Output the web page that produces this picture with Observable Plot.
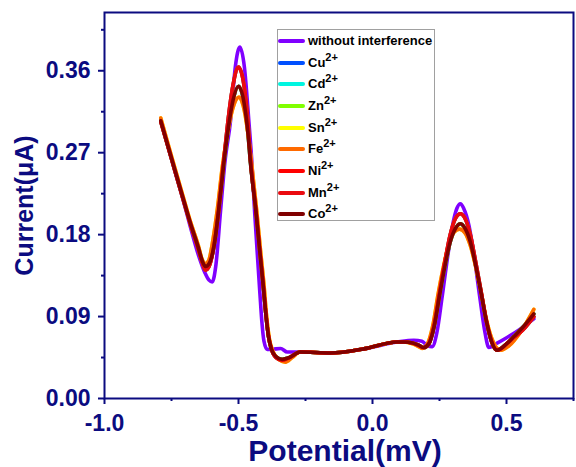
<!DOCTYPE html>
<html><head><meta charset="utf-8">
<script src="https://cdn.jsdelivr.net/npm/d3@7"></script>
<script src="https://cdn.jsdelivr.net/npm/@observablehq/plot@0.6"></script>
<style>
body{margin:0;background:#fff;}
#wrap{position:relative;width:576px;height:467px;font-family:"Liberation Sans",Arial,sans-serif;}
#legend{position:absolute;left:277px;top:29px;width:158px;height:192px;border:1px solid #a0a0a0;background:#fff;box-sizing:border-box;}
.row{position:absolute;left:0;height:20px;display:flex;align-items:center;white-space:nowrap;}
.sw{width:27px;height:4px;margin-left:0px;border-radius:2px}
.lab{margin-left:3px;font-weight:bold;font-size:13px;color:#000;line-height:20px;}
.lab sup{font-size:11px;vertical-align:6px;line-height:0;}
</style></head>
<body>
<div id="wrap"></div>
<script>
const seriesNames = ["without interference","Cu","Cd","Zn","Sn","Fe","Ni","Mn","Co"];
const charges = ["", "2+","2+","2+","2+","2+","2+","2+","2+"];
const colors = ["#8000ff","#0050ff","#00f5e0","#80ff00","#ffff00","#ff6a00","#ff0000","#ea0a10","#800000"];

// without interference (purple)
const freeX = [-0.79,-0.75,-0.70,-0.68,-0.65,-0.625,-0.61,-0.598,-0.585,-0.567,-0.551,-0.529,-0.512,-0.495,-0.478,-0.462,-0.45,-0.44,-0.43,-0.42,-0.413,-0.405,-0.393,-0.375,-0.343,-0.318,-0.27,-0.157,-0.032,0.092,0.154,0.185,0.204,0.223,0.24,0.26,0.28,0.30,0.315,0.328,0.34,0.36,0.38,0.40,0.42,0.434,0.46,0.502,0.552,0.602];
const freeY = [0.305,0.263,0.211,0.189,0.158,0.138,0.130,0.128,0.145,0.206,0.259,0.307,0.364,0.386,0.364,0.307,0.259,0.206,0.160,0.115,0.085,0.063,0.054,0.054,0.055,0.051,0.051,0.050,0.0545,0.062,0.064,0.063,0.058,0.057,0.072,0.112,0.155,0.192,0.209,0.214,0.209,0.190,0.155,0.112,0.072,0.056,0.060,0.067,0.0765,0.0875];

// shared potentials for the ion curves
const ionX = [-0.79,-0.75,-0.70,-0.68,-0.65,-0.635,-0.623,-0.61,-0.59,-0.574,-0.555,-0.538,-0.52,-0.50,-0.48,-0.465,-0.455,-0.435,-0.42,-0.408,-0.398,-0.388,-0.378,-0.36,-0.337,-0.31,-0.27,-0.157,-0.032,0.092,0.117,0.15,0.175,0.191,0.21,0.23,0.25,0.27,0.29,0.31,0.328,0.345,0.365,0.385,0.405,0.425,0.445,0.465,0.5,0.527,0.56,0.602];
const niY = [0.304,0.263,0.212,0.192,0.164,0.149,0.141,0.145,0.170,0.206,0.261,0.308,0.345,0.364,0.345,0.305,0.261,0.206,0.160,0.125,0.093,0.068,0.055,0.045,0.042,0.045,0.051,0.050,0.0545,0.062,0.062,0.061,0.058,0.056,0.060,0.080,0.115,0.150,0.180,0.198,0.203,0.198,0.180,0.150,0.118,0.085,0.062,0.053,0.060,0.067,0.075,0.090];
const mnY = [0.304,0.263,0.212,0.192,0.164,0.149,0.141,0.145,0.170,0.206,0.261,0.308,0.345,0.364,0.345,0.305,0.261,0.206,0.160,0.125,0.093,0.068,0.055,0.045,0.042,0.045,0.051,0.050,0.0545,0.062,0.062,0.061,0.058,0.056,0.060,0.080,0.115,0.150,0.180,0.198,0.203,0.198,0.180,0.150,0.118,0.085,0.062,0.053,0.060,0.067,0.075,0.090];
const coY = [0.305,0.264,0.213,0.193,0.166,0.151,0.145,0.148,0.170,0.207,0.258,0.297,0.328,0.343,0.326,0.292,0.258,0.206,0.160,0.125,0.093,0.068,0.055,0.046,0.043,0.045,0.051,0.050,0.0545,0.062,0.062,0.061,0.058,0.056,0.060,0.079,0.113,0.145,0.172,0.187,0.192,0.187,0.172,0.146,0.116,0.085,0.062,0.053,0.060,0.068,0.078,0.093];
// hidden under the top curves in the figure
const cuY = coY, cdY = niY, znY = coY;

const feX = [-0.79,-0.75,-0.70,-0.68,-0.65,-0.636,-0.625,-0.612,-0.595,-0.578,-0.56,-0.54,-0.52,-0.498,-0.478,-0.462,-0.45,-0.432,-0.417,-0.405,-0.396,-0.385,-0.372,-0.35,-0.325,-0.30,-0.27,-0.157,-0.032,0.092,0.117,0.15,0.172,0.185,0.205,0.225,0.245,0.265,0.285,0.305,0.325,0.345,0.365,0.385,0.405,0.425,0.445,0.478,0.51,0.55,0.602];
const feY = [0.308,0.266,0.215,0.195,0.168,0.153,0.148,0.151,0.175,0.210,0.255,0.293,0.320,0.331,0.316,0.285,0.255,0.206,0.160,0.125,0.093,0.066,0.052,0.043,0.040,0.045,0.051,0.050,0.0545,0.062,0.062,0.060,0.057,0.055,0.060,0.080,0.115,0.145,0.170,0.183,0.186,0.182,0.168,0.145,0.117,0.087,0.066,0.053,0.058,0.072,0.098];
const snX = feX, snY = feY;

const xTicks = [-1.0,-0.5,0.0,0.5];
const xMinor = [-0.75,-0.25,0.25,0.75];
const yTicks = [0.00,0.09,0.18,0.27,0.36];
const yMinor = [0.045,0.135,0.225,0.315,0.405];

const seriesXY = [[freeX,freeY],[ionX,cuY],[ionX,cdY],[ionX,znY],[snX,snY],[feX,feY],[ionX,niY],[ionX,mnY],[ionX,coY]];
const rows = [];
seriesXY.forEach(([xs,ys],i)=>xs.forEach((x,j)=>rows.push({series:seriesNames[i],x,y:ys[j]})));

const navy = "#0b0b80";
const chart = Plot.plot({
  width:576, height:467,
  marginLeft:104, marginRight:3, marginTop:12, marginBottom:69,
  x:{domain:[-1,0.75]},
  y:{domain:[0,0.424]},
  color:{domain:seriesNames, range:colors},
  style:{fontFamily:"'Liberation Sans', Arial, sans-serif", fontWeight:"bold", color:navy, background:"white"},
  marks:[
    Plot.line(rows,{x:"x",y:"y",z:"series",stroke:"series",strokeWidth:3.6,curve:"monotone-x"}),
    Plot.frame({stroke:navy,strokeWidth:2}),
    Plot.axisX(xTicks,{tickSize:6,tickPadding:10,tickFormat:d=>d.toFixed(1),fontSize:23,strokeWidth:2,label:null}),
    Plot.axisX(xMinor,{tickSize:3,tickFormat:()=>"",strokeWidth:2,label:null}),
    Plot.axisY(yTicks,{tickSize:6,tickPadding:8,tickFormat:d=>d.toFixed(2),fontSize:23,strokeWidth:2,label:null}),
    Plot.axisY(yMinor,{tickSize:3,tickFormat:()=>"",strokeWidth:2,label:null}),
    Plot.text(["Current(μA)"],{frameAnchor:"left",textAnchor:"middle",lineAnchor:"middle",dx:-80,rotate:-90,fontSize:25,fill:navy}),
    Plot.text(["Potential(mV)"],{frameAnchor:"bottom",textAnchor:"middle",lineAnchor:"middle",dx:6,dy:53,fontSize:30,fill:navy})
  ]
});
const wrap = document.getElementById("wrap");
wrap.appendChild(chart);

const legend = document.createElement("div");
legend.id = "legend";
seriesNames.forEach((name,i)=>{
  const row = document.createElement("div");
  row.className = "row";
  row.style.top = (1 + i*21.67) + "px";
  const sw = document.createElement("div");
  sw.className = "sw";
  sw.style.background = colors[i];
  const lab = document.createElement("span");
  lab.className = "lab";
  lab.textContent = name;
  if (charges[i]) { const s = document.createElement("sup"); s.textContent = charges[i]; lab.appendChild(s); }
  row.appendChild(sw); row.appendChild(lab);
  legend.appendChild(row);
});
wrap.appendChild(legend);
</script>
</body></html>
